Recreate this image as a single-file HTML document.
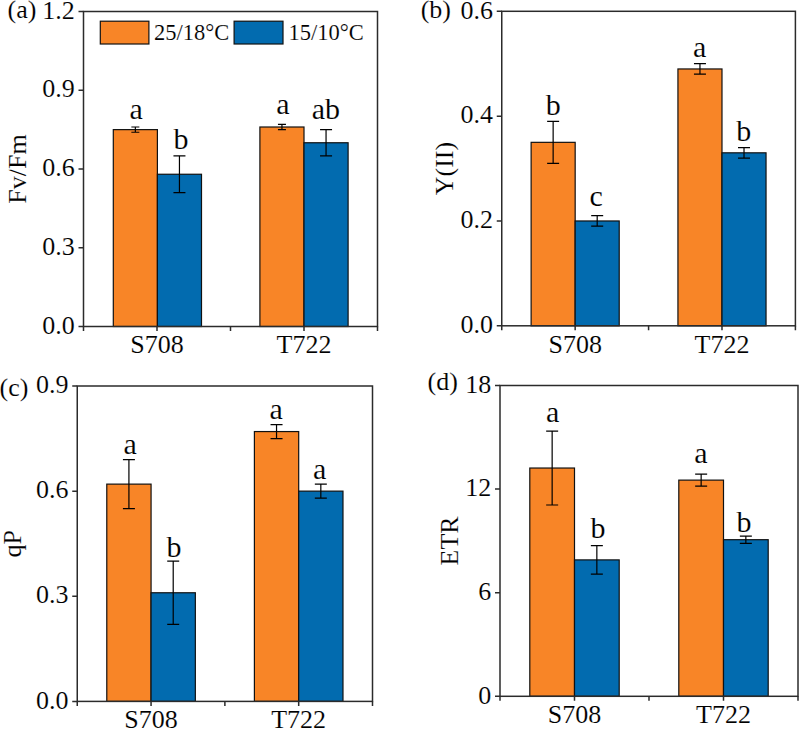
<!DOCTYPE html><html><head><meta charset="utf-8"><style>html,body{margin:0;padding:0;background:#fff;width:800px;height:730px;overflow:hidden}svg{display:block}text{font-family:"Liberation Serif",serif;fill:#000;stroke:#fff;stroke-width:0.12px}</style></head><body>
<svg width="800" height="730" viewBox="0 0 800 730">
<rect width="800" height="730" fill="#fff"/>
<rect x="113.3" y="129.62" width="44.1" height="196.88" fill="#F88527" stroke="#111" stroke-width="1.2"/>
<rect x="157.4" y="174.25" width="44.1" height="152.25" fill="#026BAF" stroke="#111" stroke-width="1.2"/>
<rect x="259.9" y="127" width="44.1" height="199.5" fill="#F88527" stroke="#111" stroke-width="1.2"/>
<rect x="304" y="142.75" width="44.1" height="183.75" fill="#026BAF" stroke="#111" stroke-width="1.2"/>
<path d="M135.35 127V132.25M131.35 127H139.35M131.35 132.25H139.35" stroke="#000" stroke-width="1.2" fill="none"/>
<text x="136.2" y="118.7" font-size="30" text-anchor="middle">a</text>
<path d="M179.45 155.88V192.62M173.45 155.88H185.45M173.45 192.62H185.45" stroke="#000" stroke-width="1.2" fill="none"/>
<text x="181" y="148.5" font-size="30" text-anchor="middle">b</text>
<path d="M281.95 124.38V129.62M277.95 124.38H285.95M277.95 129.62H285.95" stroke="#000" stroke-width="1.2" fill="none"/>
<text x="282.95" y="114.2" font-size="30" text-anchor="middle">a</text>
<path d="M326.05 129.62V155.88M320.05 129.62H332.05M320.05 155.88H332.05" stroke="#000" stroke-width="1.2" fill="none"/>
<text x="325.9" y="119.2" font-size="30" text-anchor="middle">ab</text>
<rect x="83.5" y="11.5" width="294" height="315" fill="none" stroke="#2b2b2b" stroke-width="1.5"/>
<text x="74.7" y="333.7" font-size="26" text-anchor="end">0.0</text>
<text x="74.7" y="254.95" font-size="26" text-anchor="end">0.3</text>
<text x="74.7" y="176.2" font-size="26" text-anchor="end">0.6</text>
<text x="74.7" y="97.45" font-size="26" text-anchor="end">0.9</text>
<text x="74.7" y="18.7" font-size="26" text-anchor="end">1.2</text>
<path d="M78.5 326.5H83.5M78.5 247.75H83.5M78.5 169H83.5M78.5 90.25H83.5M78.5 11.5H83.5M83.5 326.5V331M157 326.5V331M230.5 326.5V331M304 326.5V331M377.5 326.5V331" stroke="#2b2b2b" stroke-width="1.5" fill="none"/>
<text x="157" y="353.3" font-size="26" text-anchor="middle">S708</text>
<text x="304" y="353.3" font-size="26" text-anchor="middle">T722</text>
<text x="26" y="169" font-size="26" text-anchor="middle" transform="rotate(-90 26 169)">Fv/Fm</text>
<text x="7.5" y="18.3" font-size="26">(a)</text>
<rect x="531.12" y="142.34" width="44.05" height="183.46" fill="#F88527" stroke="#111" stroke-width="1.2"/>
<rect x="575.16" y="220.97" width="44.05" height="104.83" fill="#026BAF" stroke="#111" stroke-width="1.2"/>
<rect x="677.94" y="68.96" width="44.05" height="256.84" fill="#F88527" stroke="#111" stroke-width="1.2"/>
<rect x="721.99" y="152.82" width="44.05" height="172.98" fill="#026BAF" stroke="#111" stroke-width="1.2"/>
<path d="M553.14 121.38V163.31M547.14 121.38H559.14M547.14 163.31H559.14" stroke="#000" stroke-width="1.2" fill="none"/>
<text x="553.24" y="115" font-size="30" text-anchor="middle">b</text>
<path d="M597.19 215.72V226.21M591.19 215.72H603.19M591.19 226.21H603.19" stroke="#000" stroke-width="1.2" fill="none"/>
<text x="596.24" y="206" font-size="30" text-anchor="middle">c</text>
<path d="M699.96 63.72V74.2M693.96 63.72H705.96M693.96 74.2H705.96" stroke="#000" stroke-width="1.2" fill="none"/>
<text x="699.56" y="56.5" font-size="30" text-anchor="middle">a</text>
<path d="M744.01 147.58V158.07M738.01 147.58H750.01M738.01 158.07H750.01" stroke="#000" stroke-width="1.2" fill="none"/>
<text x="743.76" y="140.5" font-size="30" text-anchor="middle">b</text>
<rect x="501.75" y="11.3" width="293.65" height="314.5" fill="none" stroke="#2b2b2b" stroke-width="1.5"/>
<text x="492.95" y="333" font-size="26" text-anchor="end">0.0</text>
<text x="492.95" y="228.17" font-size="26" text-anchor="end">0.2</text>
<text x="492.95" y="123.33" font-size="26" text-anchor="end">0.4</text>
<text x="492.95" y="18.5" font-size="26" text-anchor="end">0.6</text>
<path d="M496.75 325.8H501.75M496.75 220.97H501.75M496.75 116.13H501.75M496.75 11.3H501.75M501.75 325.8V330.3M575.16 325.8V330.3M648.58 325.8V330.3M721.99 325.8V330.3M795.4 325.8V330.3" stroke="#2b2b2b" stroke-width="1.5" fill="none"/>
<text x="575.16" y="352.6" font-size="26" text-anchor="middle">S708</text>
<text x="721.99" y="352.6" font-size="26" text-anchor="middle">T722</text>
<text x="452.7" y="168.55" font-size="26" text-anchor="middle" transform="rotate(-90 452.7 168.55)">Y(II)</text>
<text x="420.7" y="18" font-size="26">(b)</text>
<rect x="106.78" y="484.12" width="44.29" height="217.28" fill="#F88527" stroke="#111" stroke-width="1.2"/>
<rect x="151.06" y="592.76" width="44.29" height="108.64" fill="#026BAF" stroke="#111" stroke-width="1.2"/>
<rect x="254.4" y="431.56" width="44.29" height="269.84" fill="#F88527" stroke="#111" stroke-width="1.2"/>
<rect x="298.69" y="491.13" width="44.29" height="210.27" fill="#026BAF" stroke="#111" stroke-width="1.2"/>
<path d="M128.92 459.59V508.66M122.92 459.59H134.92M122.92 508.66H134.92" stroke="#000" stroke-width="1.2" fill="none"/>
<text x="130.17" y="454.2" font-size="30" text-anchor="middle">a</text>
<path d="M173.21 561.22V624.3M167.21 561.22H179.21M167.21 624.3H179.21" stroke="#000" stroke-width="1.2" fill="none"/>
<text x="174.01" y="556.5" font-size="30" text-anchor="middle">b</text>
<path d="M276.54 424.55V438.57M270.54 424.55H282.54M270.54 438.57H282.54" stroke="#000" stroke-width="1.2" fill="none"/>
<text x="276.04" y="419.2" font-size="30" text-anchor="middle">a</text>
<path d="M320.83 484.12V498.14M314.83 484.12H326.83M314.83 498.14H326.83" stroke="#000" stroke-width="1.2" fill="none"/>
<text x="319.63" y="479" font-size="30" text-anchor="middle">a</text>
<rect x="77.25" y="386" width="295.25" height="315.4" fill="none" stroke="#2b2b2b" stroke-width="1.5"/>
<text x="68.45" y="708.6" font-size="26" text-anchor="end">0.0</text>
<text x="68.45" y="603.47" font-size="26" text-anchor="end">0.3</text>
<text x="68.45" y="498.33" font-size="26" text-anchor="end">0.6</text>
<text x="68.45" y="393.2" font-size="26" text-anchor="end">0.9</text>
<path d="M72.25 701.4H77.25M72.25 596.27H77.25M72.25 491.13H77.25M72.25 386H77.25M77.25 701.4V705.9M151.06 701.4V705.9M224.88 701.4V705.9M298.69 701.4V705.9M372.5 701.4V705.9" stroke="#2b2b2b" stroke-width="1.5" fill="none"/>
<text x="151.06" y="728.2" font-size="26" text-anchor="middle">S708</text>
<text x="298.69" y="728.2" font-size="26" text-anchor="middle">T722</text>
<text x="20.8" y="543.7" font-size="26" text-anchor="middle" transform="rotate(-90 20.8 543.7)">qP</text>
<text x="-0.5" y="396" font-size="26">(c)</text>
<rect x="529.8" y="468.03" width="44.7" height="228.27" fill="#F88527" stroke="#111" stroke-width="1.2"/>
<rect x="574.5" y="559.89" width="44.7" height="136.41" fill="#026BAF" stroke="#111" stroke-width="1.2"/>
<rect x="678.8" y="480.12" width="44.7" height="216.18" fill="#F88527" stroke="#111" stroke-width="1.2"/>
<rect x="723.5" y="539.69" width="44.7" height="156.61" fill="#026BAF" stroke="#111" stroke-width="1.2"/>
<path d="M552.15 431.08V504.99M546.15 431.08H558.15M546.15 504.99H558.15" stroke="#000" stroke-width="1.2" fill="none"/>
<text x="552.6" y="422" font-size="30" text-anchor="middle">a</text>
<path d="M596.85 545.56V574.22M590.85 545.56H602.85M590.85 574.22H602.85" stroke="#000" stroke-width="1.2" fill="none"/>
<text x="597.95" y="538.2" font-size="30" text-anchor="middle">b</text>
<path d="M701.15 474.08V486.16M695.15 474.08H707.15M695.15 486.16H707.15" stroke="#000" stroke-width="1.2" fill="none"/>
<text x="700.85" y="463.3" font-size="30" text-anchor="middle">a</text>
<path d="M745.85 536.07V543.32M739.85 536.07H751.85M739.85 543.32H751.85" stroke="#000" stroke-width="1.2" fill="none"/>
<text x="743.95" y="531.5" font-size="30" text-anchor="middle">b</text>
<rect x="500" y="385.5" width="298" height="310.8" fill="none" stroke="#2b2b2b" stroke-width="1.5"/>
<text x="491.2" y="703.5" font-size="26" text-anchor="end">0</text>
<text x="491.2" y="599.9" font-size="26" text-anchor="end">6</text>
<text x="491.2" y="496.3" font-size="26" text-anchor="end">12</text>
<text x="491.2" y="392.7" font-size="26" text-anchor="end">18</text>
<path d="M495 696.3H500M495 592.7H500M495 489.1H500M495 385.5H500M500 696.3V700.8M574.5 696.3V700.8M649 696.3V700.8M723.5 696.3V700.8M798 696.3V700.8" stroke="#2b2b2b" stroke-width="1.5" fill="none"/>
<text x="574.5" y="723.1" font-size="26" text-anchor="middle">S708</text>
<text x="723.5" y="723.1" font-size="26" text-anchor="middle">T722</text>
<text x="458.3" y="540.9" font-size="26" text-anchor="middle" transform="rotate(-90 458.3 540.9)">ETR</text>
<text x="427.5" y="390.3" font-size="26">(d)</text>
<rect x="100.3" y="21.2" width="48.6" height="22.8" fill="#F88527" stroke="#111" stroke-width="1.2"/>
<text x="154" y="39.6" font-size="22.5">25/18°C</text>
<rect x="234.1" y="21.2" width="48.9" height="22.8" fill="#026BAF" stroke="#111" stroke-width="1.2"/>
<text x="288.6" y="39.6" font-size="22.5">15/10°C</text>
</svg></body></html>
